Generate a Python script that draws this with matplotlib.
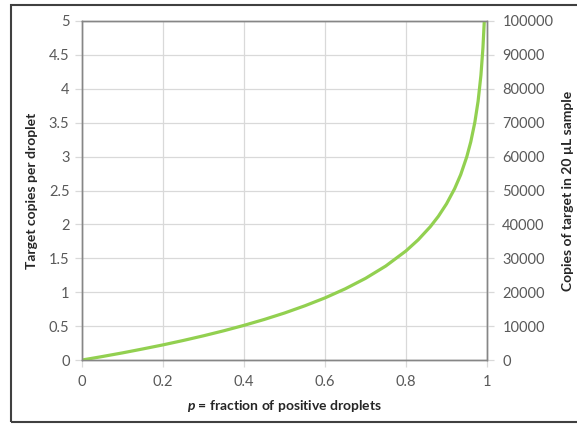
import matplotlib
matplotlib.use("Agg")
import matplotlib.pyplot as plt
from matplotlib.patches import Rectangle

plt.rcParams['font.family'] = ['Lato', 'DejaVu Sans']
plt.rcParams['mathtext.fontset'] = 'custom'
plt.rcParams['mathtext.it'] = 'Lato:italic'
plt.rcParams['mathtext.bf'] = 'Lato:bold'
plt.rcParams['mathtext.bfit'] = 'Lato:bold:italic'

# values
p_vals = [0.0, 0.02, 0.05, 0.1, 0.15, 0.2, 0.25, 0.3, 0.35, 0.4, 0.45, 0.5, 0.55,
          0.6, 0.65, 0.7, 0.75, 0.8, 0.83, 0.86, 0.88, 0.9, 0.92, 0.935, 0.95,
          0.96, 0.97, 0.978, 0.985, 0.99, 0.9933]
copies_per_droplet = [0.0, 0.02, 0.051, 0.105, 0.163, 0.223, 0.288, 0.357, 0.431,
                      0.511, 0.598, 0.693, 0.799, 0.916, 1.05, 1.204, 1.386, 1.609,
                      1.772, 1.966, 2.12, 2.303, 2.526, 2.733, 2.996, 3.219, 3.507,
                      3.817, 4.2, 4.605, 5.0]
x_ticks = [0, 0.2, 0.4, 0.6, 0.8, 1]
x_tick_labels = ['0', '0.2', '0.4', '0.6', '0.8', '1']
y_ticks = [0, 0.5, 1, 1.5, 2, 2.5, 3, 3.5, 4, 4.5, 5]
y_tick_labels = ['0', '0.5', '1', '1.5', '2', '2.5', '3', '3.5', '4', '4.5', '5']
y2_ticks = [0, 10000, 20000, 30000, 40000, 50000, 60000, 70000, 80000, 90000, 100000]

W, H = 577, 426
fig = plt.figure(figsize=(W / 100, H / 100), dpi=100)
ax = fig.add_axes([82 / W, 1 - 360 / H, (487 - 82) / W, (360 - 21) / H])

grid_c = '#D9D9D9'
spine_c = '#868686'
text_c = '#595959'

ax.plot(p_vals, copies_per_droplet, color='#92D050', lw=2.3, solid_capstyle='butt', zorder=3)
ax.set_xlim(0, 1)
ax.set_ylim(0, 5)
ax.set_xticks(x_ticks)
ax.set_xticklabels(x_tick_labels)
ax.set_yticks(y_ticks)
ax.set_yticklabels(y_tick_labels)
ax.grid(True, color=grid_c, lw=0.9)
ax.set_axisbelow(True)
for s in ax.spines.values():
    s.set_color(spine_c)
    s.set_linewidth(1.0)
ax.tick_params(axis='both', colors=grid_c, length=5, width=0.9, labelcolor=text_c,
               labelsize=10.5, pad=4)
ax.tick_params(axis='x', pad=6)

ax2 = ax.twinx()
ax2.set_ylim(0, 100000)
ax2.set_yticks(y2_ticks)
ax2.set_yticklabels([str(v) for v in y2_ticks])
ax2.tick_params(axis='y', colors=grid_c, length=5, width=0.9, labelcolor=text_c,
                labelsize=10.5, pad=6)
for s in ax2.spines.values():
    s.set_color(spine_c)
    s.set_linewidth(1.0)

ax.set_xlabel(r'$\mathbfit{p}$ = fraction of positive droplets', fontsize=10,
              fontweight='bold', color='#262626', labelpad=6)
ax.set_ylabel('Target copies per droplet', fontsize=10, fontweight='bold',
              color='#262626', labelpad=8)
ax2.set_ylabel('Copies of target in 20 µL sample', fontsize=10, fontweight='bold',
               color='#262626', labelpad=6)

fig.patches.append(Rectangle((11 / W, 1 - 422 / H), 1.0, (422 - 5) / H,
                             transform=fig.transFigure, fill=False,
                             edgecolor='#404040', lw=1.5, zorder=0))

fig.savefig('out.png', dpi=100)
